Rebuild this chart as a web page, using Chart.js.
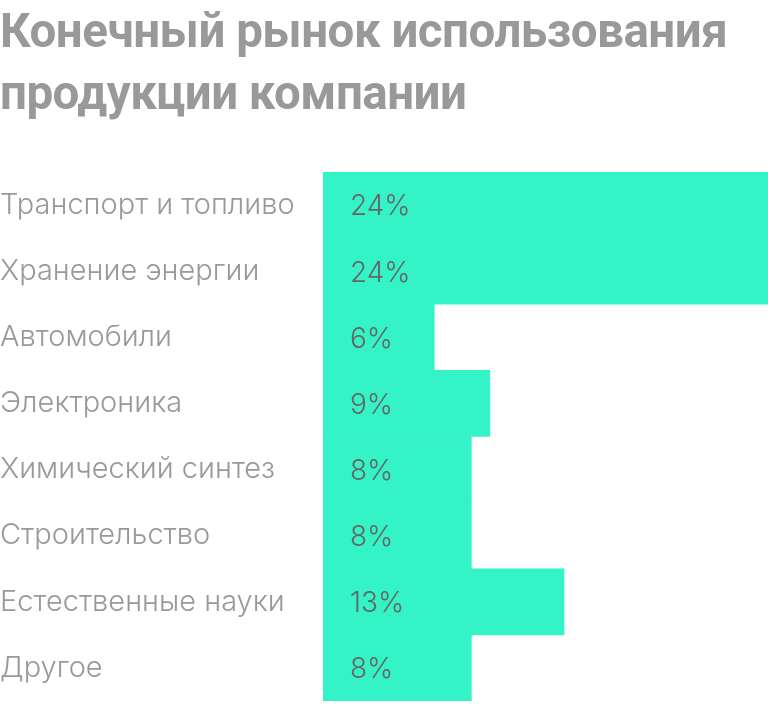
<!DOCTYPE html>
<html>
<head>
<meta charset="utf-8">
<script src="https://cdn.jsdelivr.net/npm/chart.js@4"></script>
<style>
  html, body { margin: 0; padding: 0; background: #fff; }
  #wrap { position: relative; width: 768px; height: 704px; }
  #title {
    position: absolute; left: 0; top: 0; margin: 0;
    font-family: Roboto, sans-serif; font-weight: 700; font-size: 47.5px;
    line-height: 62px; color: #999; letter-spacing: -0.5px;
  }
  canvas { position: absolute; left: 0; top: 0; }
</style>
</head>
<body>
<div id="wrap">
  <canvas id="chart" width="768" height="704"></canvas>
  <h1 id="title">Конечный рынок использования<br>продукции компании</h1>
</div>
<script>
const categories = [
  "Транспорт и топливо",
  "Хранение энергии",
  "Автомобили",
  "Электроника",
  "Химический синтез",
  "Строительство",
  "Естественные науки",
  "Другое",
];
const shares = [24, 24, 6, 9, 8, 8, 13, 8];

const barColor = "#34f3c6";

const valueLabels = {
  id: "valueLabels",
  afterDatasetsDraw(chart) {
    const ctx = chart.ctx;
    const meta = chart.getDatasetMeta(0);
    ctx.save();
    ctx.font = "300 28px Inter, sans-serif";
    ctx.fillStyle = "#666";
    ctx.textBaseline = "middle";
    ctx.textAlign = "left";
    meta.data.forEach((bar, i) => {
      ctx.fillText(shares[i] + "%", chart.chartArea.left + 27, bar.y + 2);
    });
    ctx.restore();
  },
};

new Chart(document.getElementById("chart"), {
  type: "bar",
  data: {
    labels: categories,
    datasets: [
      {
        data: shares,
        backgroundColor: barColor,
        borderWidth: 0,
        categoryPercentage: 1,
        barPercentage: 1,
      },
    ],
  },
  plugins: [valueLabels],
  options: {
    indexAxis: "y",
    responsive: false,
    animation: false,
    layout: { padding: { top: 172, bottom: 3, left: 0, right: 0 } },
    plugins: { legend: { display: false }, tooltip: { enabled: false } },
    scales: {
      x: { display: false, min: 0, max: 24 },
      y: {
        grid: { display: false },
        border: { display: false },
        afterFit(scale) {
          scale.width = 323;
          scale.paddingTop = 0;
          scale.paddingBottom = 0;
        },
        ticks: {
          crossAlign: "far",
          color: "#999",
          font: { family: "Inter, sans-serif", size: 29, weight: 300 },
          padding: 0,
        },
      },
    },
  },
});
</script>
</body>
</html>
